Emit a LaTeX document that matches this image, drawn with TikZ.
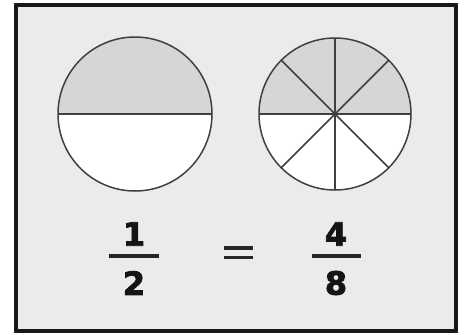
\documentclass[tikz,border=0pt]{standalone}
\usepackage{fontspec}
\setmainfont{DejaVu Sans}
\newfontfamily\heavyfont{DejaVu Sans Bold}[FakeBold=2.5]
\usetikzlibrary{calc}
\begin{document}
\begin{tikzpicture}[x=1pt,y=-1pt,
  edge/.style={draw=black!75,line width=1.5pt},
  digit/.style={font=\heavyfont\bfseries\fontsize{32}{32}\selectfont,text=black!92,inner sep=0pt},
  bar/.style={draw=black!85,line width=3.8pt}]
\useasboundingbox (0,0) rectangle (464,335);
\fill[white] (0,0) rectangle (464,335);
\fill[black!8] (16,5) rectangle (456,331);
\draw[black!90,line width=4.5pt] (16,5) rectangle (456,331);
% left circle
\coordinate (L) at (135,114);
\fill[white] (L) ++(-77,0) arc[start angle=180,end angle=0,radius=77] -- cycle;
\fill[black!16] (L) ++(77,0) arc[start angle=0,end angle=-180,radius=77] -- cycle;
\draw[edge] (L) circle[radius=77];
\draw[edge] ($(L)+(-77,0)$) -- ($(L)+(77,0)$);
% right circle
\coordinate (R) at (335,114);
\fill[white] (R) ++(-76,0) arc[start angle=180,end angle=0,radius=76] -- cycle;
\fill[black!16] (R) ++(76,0) arc[start angle=0,end angle=-180,radius=76] -- cycle;
\draw[edge] (R) circle[radius=76];
\foreach \a in {0,45,90,135} {
  \draw[edge] (R) ++(\a:76) -- ++(\a+180:152);
}
% fractions
\node[digit] (n1) at (134,234) {1};
\node[digit] (d2) at (134,283) {2};
\draw[bar] (109,256) -- (159,256);
\node[digit] (n4) at (336,234) {4};
\node[digit] (d8) at (336,283) {8};
\draw[bar] (312,256) -- (361,256);
\draw[bar] (224,248) -- (253,248);
\draw[bar] (224,257.5) -- (253,257.5);
\end{tikzpicture}
\end{document}
